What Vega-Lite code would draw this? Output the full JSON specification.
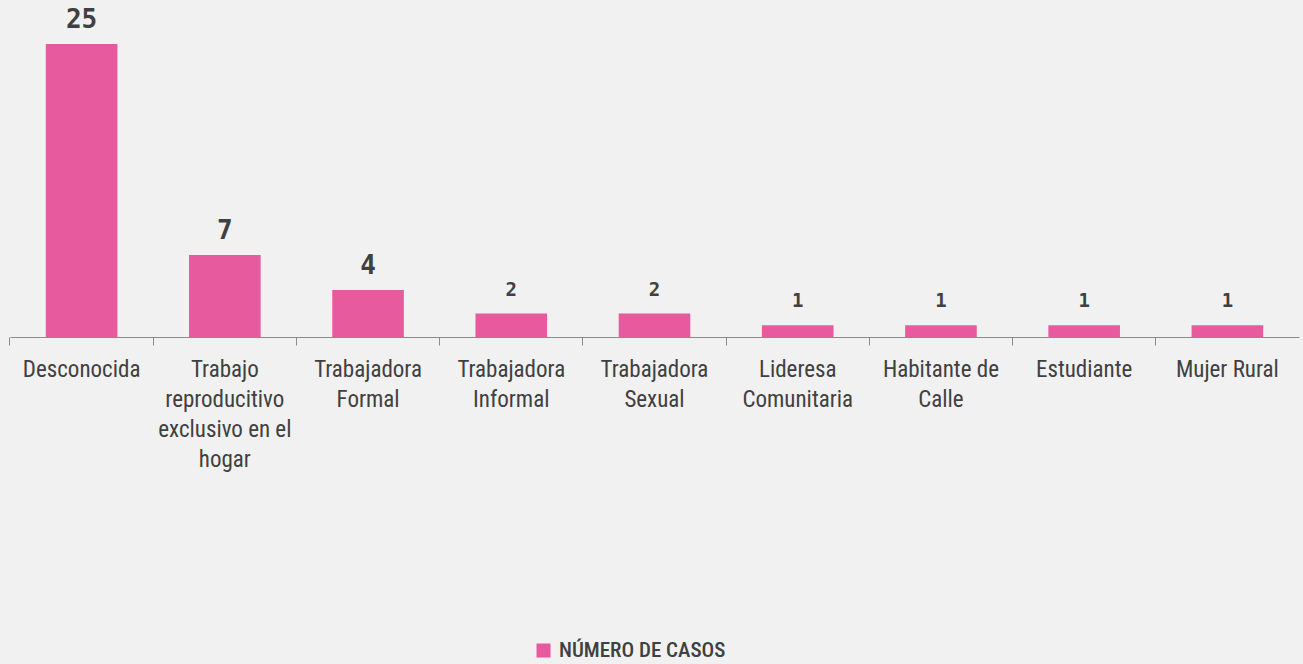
{
  "$schema": "https://vega.github.io/schema/vega-lite/v6.json",
  "width": 1289,
  "height": 293,
  "autosize": {"type": "none"},
  "padding": {"left": 10, "top": 44, "right": 4, "bottom": 327},
  "background": "#f1f1f1",
  "config": {"view": {"stroke": null}},
  "data": {
    "values": [
      {"ocupacion": "Desconocida", "casos": 25, "serie": "NÚMERO DE CASOS"},
      {"ocupacion": "Trabajo|reproducitivo|exclusivo en el|hogar", "casos": 7, "serie": "NÚMERO DE CASOS"},
      {"ocupacion": "Trabajadora|Formal", "casos": 4, "serie": "NÚMERO DE CASOS"},
      {"ocupacion": "Trabajadora|Informal", "casos": 2, "serie": "NÚMERO DE CASOS"},
      {"ocupacion": "Trabajadora|Sexual", "casos": 2, "serie": "NÚMERO DE CASOS"},
      {"ocupacion": "Lideresa|Comunitaria", "casos": 1, "serie": "NÚMERO DE CASOS"},
      {"ocupacion": "Habitante de|Calle", "casos": 1, "serie": "NÚMERO DE CASOS"},
      {"ocupacion": "Estudiante", "casos": 1, "serie": "NÚMERO DE CASOS"},
      {"ocupacion": "Mujer Rural", "casos": 1, "serie": "NÚMERO DE CASOS"}
    ]
  },
  "encoding": {
    "x": {
      "field": "ocupacion",
      "type": "nominal",
      "sort": null,
      "scale": {"paddingInner": 0.5, "paddingOuter": 0.25},
      "axis": {
        "title": null,
        "labelAngle": 0,
        "labelExpr": "split(datum.label, '|')",
        "labelFont": "'Roboto Condensed', 'DejaVu Sans Condensed', 'Liberation Sans Narrow', sans-serif",
        "labelFontSize": 23,
        "labelLineHeight": 30,
        "labelColor": "#404040",
        "labelPadding": 13,
        "labelLimit": 0,
        "labelBaseline": "top",
        "bandPosition": -0.5,
        "tickSize": 8,
        "tickColor": "#8c8c8c",
        "domainColor": "#8c8c8c",
        "grid": false
      }
    },
    "y": {
      "field": "casos",
      "type": "quantitative",
      "scale": {"domain": [0, 25], "nice": false},
      "axis": null
    }
  },
  "layer": [
    {
      "mark": {"type": "bar", "color": "#E85A9E"},
      "encoding": {
        "color": {
          "field": "serie",
          "type": "nominal",
          "scale": {"range": ["#E85A9E"]},
          "legend": {
            "title": null,
            "orient": "none",
            "legendX": 523,
            "legendY": 596,
            "symbolType": "square",
            "symbolSize": 196,
            "symbolStrokeWidth": 0,
            "labelFont": "'Roboto Condensed', 'DejaVu Sans Condensed', 'Liberation Sans Narrow', sans-serif",
            "labelFontSize": 21,
            "labelFontWeight": 500,
            "labelColor": "#404040",
            "labelLimit": 0,
            "labelOffset": 5
          }
        }
      }
    },
    {
      "mark": {
        "type": "text",
        "baseline": "middle",
        "dy": -24,
        "font": "DejaVu Sans Mono",
        "fontWeight": "bold",
        "color": "#404040"
      },
      "encoding": {
        "text": {"field": "casos", "type": "quantitative"},
        "size": {
          "field": "casos",
          "type": "quantitative",
          "scale": {"type": "threshold", "domain": [3], "range": [19, 26]},
          "legend": null
        }
      }
    }
  ]
}
